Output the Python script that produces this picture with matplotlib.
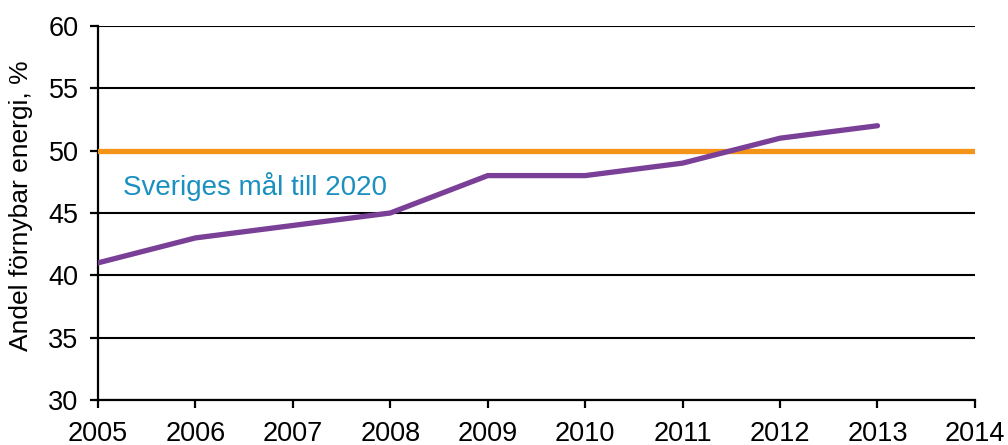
import matplotlib.pyplot as plt
import numpy as np

plt.rcParams['font.family'] = ['Liberation Sans', 'DejaVu Sans']

years = [2005, 2006, 2007, 2008, 2009, 2010, 2011, 2012, 2013]
share = [41, 43, 44, 45, 48, 48, 49, 51, 52]
goal_years = [2005, 2014]
goal = [50, 50]
goal_label = "Sveriges mål till 2020"

fig = plt.figure(figsize=(10.08, 4.45), dpi=100)
ax = fig.add_axes([0.0972, 0.1011, 0.870, 0.8405])

ax.plot(goal_years, goal, color='#f39418', lw=3.8, solid_capstyle='round', zorder=3)
ax.plot(years, share, color='#7a3f96', lw=3.8, solid_capstyle='round', zorder=4)
ax.text(2005.26, 47.1, goal_label, color='#1a90c0', fontsize=20, va='center', ha='left')

ax.set_xlim(2005, 2014)
ax.set_ylim(30, 60)
ax.set_xticks(np.arange(2005, 2015))
ax.set_yticks(np.arange(30, 61, 5))
ax.yaxis.grid(True, color='black', lw=1.5)
ax.set_axisbelow(True)
for s in ['top', 'right']:
    ax.spines[s].set_visible(False)
for s in ['left', 'bottom']:
    ax.spines[s].set_linewidth(1.6)
ax.tick_params(axis='both', direction='out', length=6, width=1.6, labelsize=19.5)
ax.tick_params(axis='x', pad=9)
ax.tick_params(axis='y', pad=8)
ax.set_ylabel("Andel förnybar energi, %", fontsize=19)
ax.yaxis.set_label_coords(-0.074, 0.52)

plt.savefig('out.png', dpi=100)
